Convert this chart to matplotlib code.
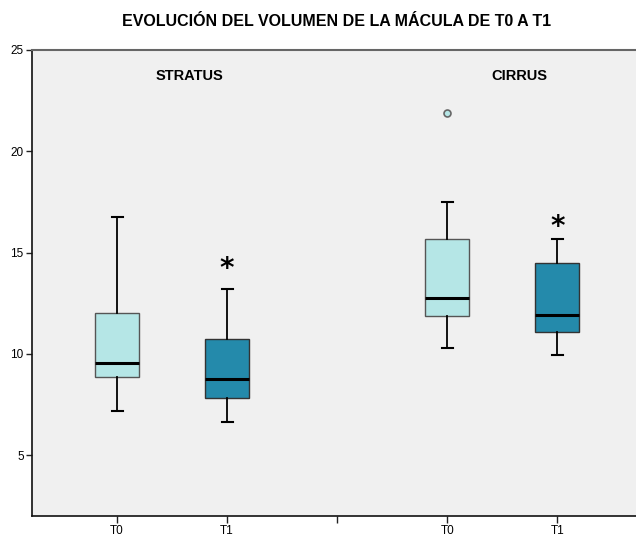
import matplotlib
matplotlib.use("Agg")
import matplotlib.pyplot as plt

plt.rcParams["font.family"] = ["Liberation Sans", "DejaVu Sans"]

# group / time point labels
groups = ["STRATUS", "CIRRUS"]
tick_labels = ["T0", "T1", "", "T0", "T1"]
positions = [1, 2, 4, 5]

# box statistics: whislo, q1, med, q3, whishi
whislo = [7.2, 6.65, 10.27, 9.97]
q1 = [8.84, 7.8, 11.86, 11.09]
med = [9.56, 8.75, 12.77, 11.93]
q3 = [12.02, 10.73, 15.67, 14.47]
whishi = [16.75, 13.2, 17.48, 15.67]

# outliers (circle) and extremes (asterisk)
outliers = [[], [], [21.87], []]
extremes = [[], [14.5], [], [16.57]]

light = "#b5e6e6"
dark = "#248aab"
box_colors = [light, dark, light, dark]
edge_colors = ["#555555", "#333333", "#555555", "#333333"]

fig = plt.figure(figsize=(6.36, 5.38), dpi=100)
ax = fig.add_axes([32 / 636, 22 / 538, 610 / 636, 466 / 538])
ax.set_facecolor("#f0f0f0")

stats = []
for i in range(len(positions)):
    stats.append({
        "whislo": whislo[i], "q1": q1[i], "med": med[i],
        "q3": q3[i], "whishi": whishi[i], "fliers": outliers[i],
    })

bp = ax.bxp(stats, positions=positions, widths=0.4, patch_artist=True,
            showfliers=True,
            medianprops=dict(color="black", linewidth=2.2),
            whiskerprops=dict(color="black", linewidth=1.3),
            capprops=dict(color="black", linewidth=1.5),
            capwidths=0.1,
            flierprops=dict(marker="o", markersize=5, markerfacecolor=light,
                            markeredgecolor="#666666", markeredgewidth=1.2))
for patch, fc, ec in zip(bp["boxes"], box_colors, edge_colors):
    patch.set_facecolor(fc)
    patch.set_edgecolor(ec)
    patch.set_linewidth(1.0)

# asterisk glyph sits high in its box, nudge it down
for pos, vals in zip(positions, extremes):
    for v in vals:
        ax.text(pos, v - 0.3, "*", ha="center", va="center", fontsize=20,
                fontweight="bold", family="DejaVu Sans")

ax.text(1.66, 23.7, groups[0], ha="center", va="center",
        fontsize=10.5, fontweight="bold")
ax.text(4.66, 23.7, groups[1], ha="center", va="center",
        fontsize=10.5, fontweight="bold")

ax.set_xlim(0.227, 5.77)
ax.set_ylim(2, 25)
ax.set_xticks([1, 2, 3, 4, 5])
ax.set_xticklabels(tick_labels)
ax.set_yticks([5, 10, 15, 20, 25])
ax.tick_params(axis="both", labelsize=8.5, length=4, width=1, color="#222222",
               pad=2)
ax.tick_params(axis="x", length=5, pad=1.5)

for side in ["left", "bottom"]:
    ax.spines[side].set_color("#111111")
    ax.spines[side].set_linewidth(1.2)
ax.spines["top"].set_color("#666666")
ax.spines["top"].set_linewidth(1.5)
ax.spines["right"].set_visible(False)

fig.text(337 / 636, 1 - 22 / 538, "EVOLUCIÓN DEL VOLUMEN DE LA MÁCULA DE T0 A T1",
         ha="center", va="center", fontsize=11.5, fontweight="bold")

fig.savefig("out.png", dpi=100, facecolor="white")
